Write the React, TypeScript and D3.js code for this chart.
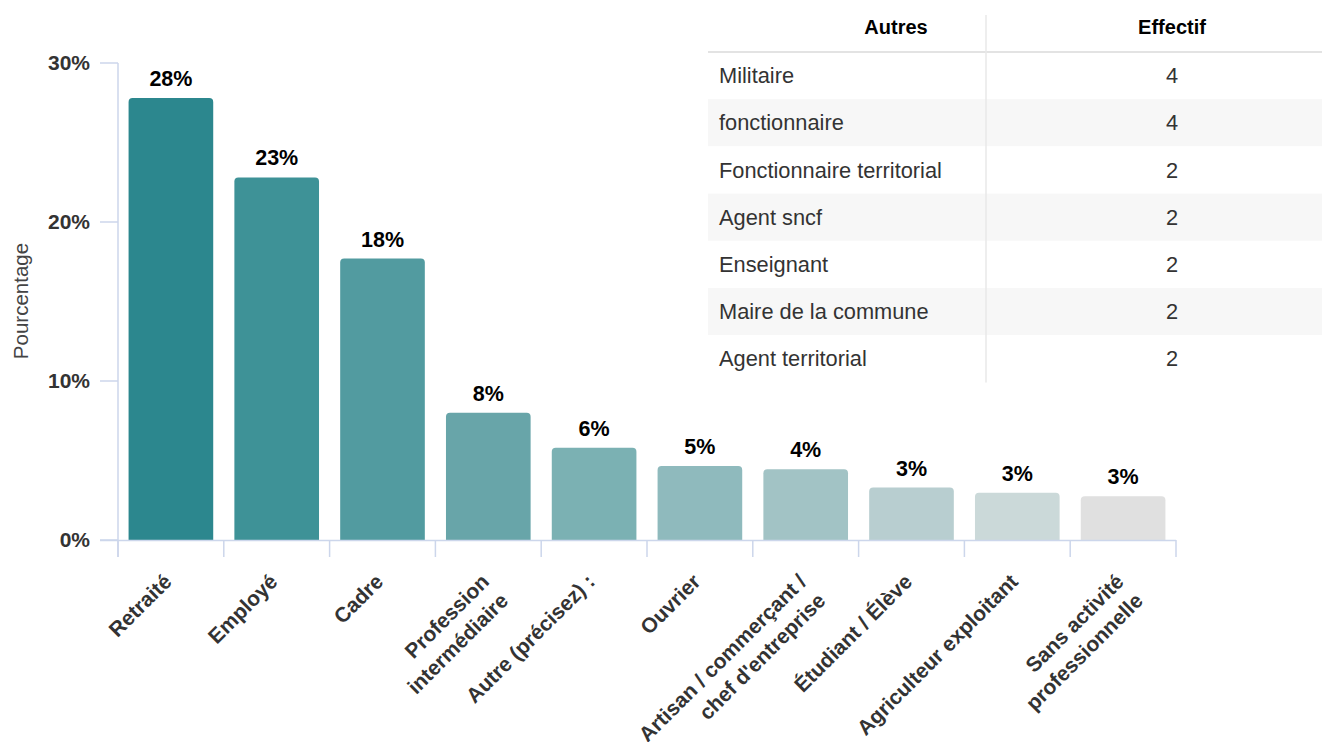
import * as d3 from "d3";

const categories = [
  ["Retraité"],
  ["Employé"],
  ["Cadre"],
  ["Profession", "intermédiaire"],
  ["Autre (précisez) :"],
  ["Ouvrier"],
  ["Artisan / commerçant /", "chef d'entreprise"],
  ["Étudiant / Élève"],
  ["Agriculteur exploitant"],
  ["Sans activité", "professionnelle"],
];
const values = [27.8, 22.8, 17.7, 8.0, 5.8, 4.65, 4.45, 3.3, 2.97, 2.75];
const valueLabels = ["28%", "23%", "18%", "8%", "6%", "5%", "4%", "3%", "3%", "3%"];
const yTicks = [0, 10, 20, 30];

const tableHeader = ["Autres", "Effectif"];
const tableNames = [
  "Militaire",
  "fonctionnaire",
  "Fonctionnaire territorial",
  "Agent sncf",
  "Enseignant",
  "Maire de la commune",
  "Agent territorial",
];
const tableCounts = [4, 4, 2, 2, 2, 2, 2];

const palette = [
  "#2c878e", "#3e9297", "#529ba0", "#68a5a9", "#7bb1b3",
  "#8fbabd", "#a2c3c5", "#b8ced0", "#cbd9d9", "#e0e0e0",
];

const W = 1322;
const H = 742;
const FONT = "'Liberation Sans', Arial, Helvetica, sans-serif";
const AXIS = "#ccd6eb";

const x = d3
  .scaleBand<number>()
  .domain(d3.range(values.length))
  .range([118, 1176])
  .paddingInner(0.2)
  .paddingOuter(0.1);
const y = d3.scaleLinear().domain([0, 30]).range([540, 63]);

// rounded top corners
const barPath = (x0: number, y0: number, w: number, h: number, r: number) => {
  const p = d3.path();
  p.moveTo(x0, y0 + h);
  p.lineTo(x0, y0 + r);
  p.arcTo(x0, y0, x0 + r, y0, r);
  p.lineTo(x0 + w - r, y0);
  p.arcTo(x0 + w, y0, x0 + w, y0 + r, r);
  p.lineTo(x0 + w, y0 + h);
  p.closePath();
  return p.toString();
};

export default function App() {
  const step = x.step();
  const boundaries = d3.range(values.length + 1).map((i) => 118 + i * step);

  // table layout
  const tLeft = 708;
  const tRight = W;
  const tDiv = 986;
  const headerH = 52;
  const rowH = 47.2;

  return (
    <svg width={W} height={H} style={{ position: "absolute", left: 0, top: 0, fontFamily: FONT }}>
      <rect width={W} height={H} fill="#fff" />

      {/* y axis */}
      <line x1={118} x2={118} y1={y(30)} y2={557} stroke={AXIS} strokeWidth={1.5} />
      {yTicks.map((t) => (
        <g key={t}>
          <line x1={100} x2={118} y1={y(t)} y2={y(t)} stroke={AXIS} strokeWidth={1.5} />
          <text x={90} y={y(t)} dy="0.35em" textAnchor="end" fontSize={21} fontWeight="bold" fill="#333">
            {t}%
          </text>
        </g>
      ))}
      <text
        transform={`translate(28,301) rotate(-90)`}
        textAnchor="middle"
        fontSize={20.5}
        fill="#444"
      >
        Pourcentage
      </text>

      {/* bars */}
      {values.map((v, i) => (
        <g key={i}>
          <path
            d={barPath(x(i)!, y(v), x.bandwidth(), y(0) - y(v), 4)}
            fill={palette[i]}
          />
          <text
            x={x(i)! + x.bandwidth() / 2}
            y={y(v) - 12}
            textAnchor="middle"
            fontSize={21.5}
            fontWeight="bold"
            fill="#000"
          >
            {valueLabels[i]}
          </text>
        </g>
      ))}

      {/* x axis */}
      <line x1={100} x2={1176} y1={540.5} y2={540.5} stroke={AXIS} strokeWidth={1.5} />
      {boundaries.map((b, i) => (
        <line key={i} x1={b} x2={b} y1={540} y2={557} stroke={AXIS} strokeWidth={1.5} />
      ))}
      {categories.map((lines, i) => {
        const cx = x(i)! + x.bandwidth() / 2 + 2;
        return (
          <text
            key={i}
            transform={`translate(${cx},583) rotate(-45)`}
            textAnchor="end"
            fontSize={21}
            fontWeight="bold"
            fill="#333"
          >
            {lines.map((l, j) => (
              <tspan key={j} x={0} dy={j === 0 ? 0 : 27}>
                {l}
              </tspan>
            ))}
          </text>
        );
      })}

      {/* table */}
      {tableNames.map((n, i) => (
        <rect
          key={n}
          x={tLeft}
          y={headerH + i * rowH}
          width={tRight - tLeft}
          height={rowH}
          fill={i % 2 === 1 ? "#f7f7f7" : "#fff"}
        />
      ))}
      <line x1={tLeft} x2={tRight} y1={headerH} y2={headerH} stroke="#e3e3e3" strokeWidth={2} />
      <line x1={tDiv} x2={tDiv} y1={15} y2={headerH + rowH * tableNames.length} stroke="#e8e8e8" strokeWidth={1.5} />
      <text x={896} y={headerH / 2 + 1} dy="0.35em" textAnchor="middle" fontSize={20} fontWeight="bold" fill="#000">
        {tableHeader[0]}
      </text>
      <text x={1172} y={headerH / 2 + 1} dy="0.35em" textAnchor="middle" fontSize={20} fontWeight="bold" fill="#000">
        {tableHeader[1]}
      </text>
      {tableNames.map((n, i) => (
        <g key={n}>
          <text x={719} y={headerH + i * rowH + rowH / 2} dy="0.35em" fontSize={21.8} fill="#333">
            {n}
          </text>
          <text x={1172} y={headerH + i * rowH + rowH / 2} dy="0.35em" textAnchor="middle" fontSize={21.8} fill="#333">
            {tableCounts[i]}
          </text>
        </g>
      ))}
    </svg>
  );
}
